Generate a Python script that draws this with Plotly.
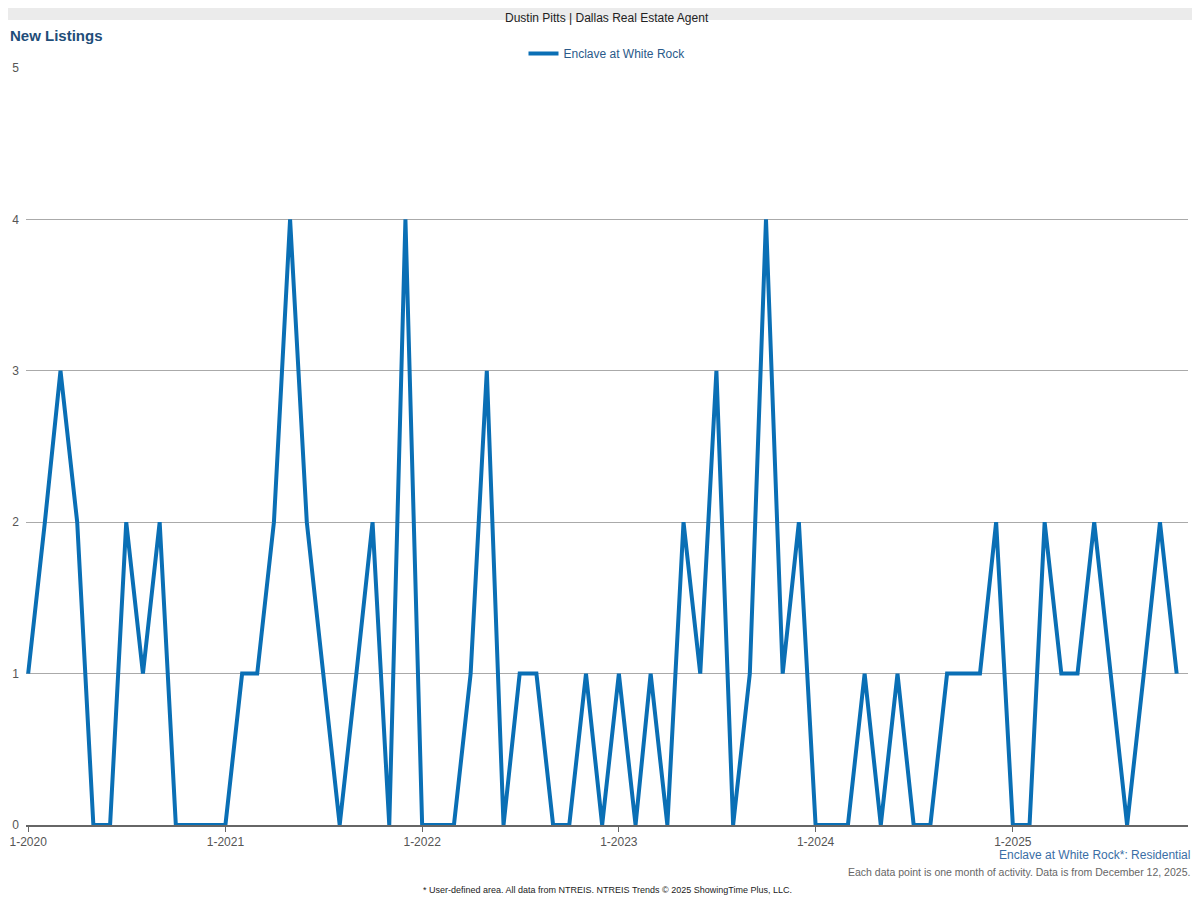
import plotly.graph_objects as go
import pandas as pd

months = pd.date_range("2020-01-01", periods=71, freq="MS")
listings = [1, 2, 3, 2, 0, 0, 2, 1, 2, 0, 0, 0,
            0, 1, 1, 2, 4, 2, 1, 0, 1, 2, 0, 4,
            0, 0, 0, 1, 3, 0, 1, 1, 0, 0, 1, 0,
            1, 0, 1, 0, 2, 1, 3, 0, 1, 4, 1, 2,
            0, 0, 0, 1, 0, 1, 0, 0, 1, 1, 1, 2,
            0, 0, 2, 1, 1, 2, 1, 0, 1, 2, 1]
tick_dates = pd.date_range("2020-01-01", periods=6, freq="YS")
tick_labels = [f"1-{d.year}" for d in tick_dates]

# page body adds an 8px offset, so figure is sized 1192x892
PH = 757
PW = 1162

fig = go.Figure()
fig.add_trace(go.Scatter(x=months, y=listings, name="Enclave at White Rock", mode="lines",
                         line=dict(color="#0a6fb5", width=4)))

fig.update_layout(
    width=1192, height=892, margin=dict(l=18, r=12, t=60, b=75),
    plot_bgcolor="white", paper_bgcolor="white",
    font=dict(family="Liberation Sans, Arial", size=12, color="#555"),
    showlegend=True,
    legend=dict(orientation="h", x=0.5, xanchor="center", y=1.0, yanchor="bottom",
                font=dict(color="#2a5a8a", size=12)),
    xaxis=dict(tickvals=tick_dates, ticktext=tick_labels, showgrid=False,
               showline=True, linecolor="#666", linewidth=2, ticks="outside",
               ticklen=5, tickcolor="#666", automargin=False,
               range=[pd.Timestamp("2019-12-28"), pd.Timestamp("2025-11-22")]),
    yaxis=dict(range=[0, 5], dtick=1, gridcolor="#aaa", zeroline=False,
               ticklabelstandoff=6, automargin=False),
)
fig.add_shape(type="rect", xref="paper", yref="paper", x0=-0.02, x1=1.02,
              y0=1.0 + 48 / PH, y1=1.0 + 60 / PH, fillcolor="#ebebeb", line_width=0)
fig.add_annotation(text="Dustin Pitts | Dallas Real Estate Agent", xref="paper", yref="paper",
                   x=0.5, y=1.0 + 59 / PH, showarrow=False, font=dict(size=12, color="#222"))
fig.add_annotation(text="<b>New Listings</b>", xref="paper", yref="paper", x=-18 / PW, xanchor="left",
                   y=1.0 + 43 / PH, showarrow=False, font=dict(size=15, color="#1f4e79"))
fig.add_annotation(text="Enclave at White Rock*: Residential", xref="paper", yref="paper",
                   x=1.0 + 4 / PW, xanchor="right", y=-39 / PH, showarrow=False,
                   font=dict(size=12, color="#3a6ea5"))
fig.add_annotation(text="Each data point is one month of activity. Data is from December 12, 2025.",
                   xref="paper", yref="paper", x=1.0 + 4 / PW, xanchor="right", y=-55 / PH,
                   showarrow=False, font=dict(size=10.5, color="#666"))
fig.add_annotation(text="* User-defined area. All data from NTREIS. NTREIS Trends © 2025 ShowingTime Plus, LLC.",
                   xref="paper", yref="paper", x=0.5, y=-72 / PH, showarrow=False,
                   font=dict(size=9, color="#222"))

fig.write_html("out.html")
